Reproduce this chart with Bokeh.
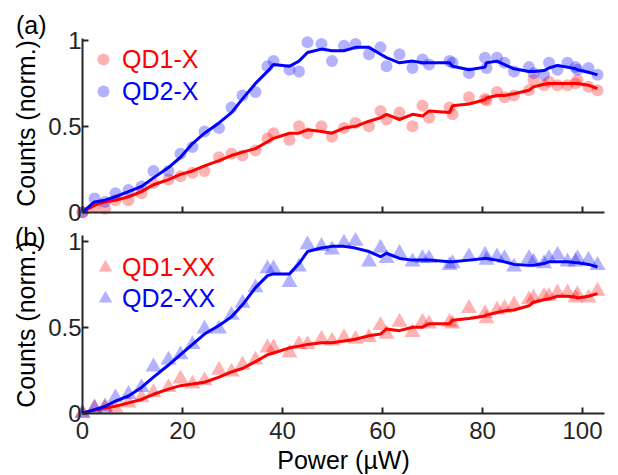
import math
from bokeh.plotting import figure
from bokeh.models import (Legend, LegendItem, Label, FixedTicker, Range1d, LinearAxis)
from bokeh.embed import file_html
from bokeh.resources import INLINE

# ---------------- data ----------------
power = [0, 2.4, 4.5, 6.6, 9.2, 11.8, 14.2, 17.2, 19.6, 22.0, 24.4, 27.3, 29.8, 32.0,
         34.6, 37.0, 38.2, 41.4, 43.3, 45.0, 47.8, 49.9, 52.3, 54.6, 57.3, 59.6, 60.8,
         63.4, 66.0, 68.0, 69.3, 73.4, 74.0, 77.3, 80.5, 80.8, 82.9, 84.4, 86.3, 89.3,
         90.2, 92.3, 93.3, 95.0, 97.0, 98.6, 99.0, 101.2, 103.0]

qd1_x = [0.0, 0.03, 0.02, 0.07, 0.07, 0.11, 0.17, 0.19, 0.21, 0.23, 0.24, 0.32, 0.34, 0.33,
         0.36, 0.43, 0.46, 0.42, 0.50, 0.46, 0.50, 0.44, 0.49, 0.52, 0.50, 0.59, 0.54,
         0.58, 0.50, 0.62, 0.55, 0.61, 0.57, 0.67, 0.66, 0.65, 0.70, 0.67, 0.68, 0.71,
         0.77, 0.74, 0.76, 0.74, 0.74, 0.75, 0.77, 0.73, 0.71]
qd1_x_fit = [0.0, 0.04, 0.06, 0.07, 0.09, 0.12, 0.16, 0.19, 0.22, 0.24, 0.27, 0.30, 0.33, 0.35,
             0.37, 0.41, 0.43, 0.46, 0.46, 0.48, 0.47, 0.46, 0.49, 0.50, 0.53, 0.55, 0.57,
             0.54, 0.57, 0.56, 0.59, 0.58, 0.62, 0.63, 0.655, 0.665, 0.68, 0.68, 0.69, 0.71,
             0.73, 0.745, 0.75, 0.75, 0.75, 0.75, 0.75, 0.74, 0.72]
qd2_x = [0.0, 0.08, 0.06, 0.11, 0.13, 0.15, 0.24, 0.24, 0.34, 0.38, 0.47, 0.49, 0.61, 0.68,
         0.70, 0.85, 0.88, 0.83, 0.82, 0.99, 0.98, 0.88, 0.97, 0.98, 0.92, 0.96, 0.85,
         0.92, 0.84, 0.89, 0.86, 0.88, 0.87, 0.81, 0.90, 0.84, 0.90, 0.87, 0.82, 0.845,
         0.81, 0.80, 0.87, 0.83, 0.87, 0.845, 0.83, 0.84, 0.80]
qd2_x_fit = [0.0, 0.06, 0.07, 0.09, 0.12, 0.15, 0.20, 0.26, 0.32, 0.40, 0.46, 0.52, 0.58, 0.66,
             0.75, 0.82, 0.86, 0.85, 0.88, 0.93, 0.95, 0.94, 0.94, 0.96, 0.96, 0.92, 0.90,
             0.87, 0.88, 0.87, 0.87, 0.87, 0.85, 0.83, 0.845, 0.87, 0.88, 0.86, 0.835, 0.82,
             0.82, 0.825, 0.84, 0.855, 0.845, 0.835, 0.83, 0.815, 0.80]

qd1_xx = [0.0, 0.03, 0.04, 0.03, 0.06, 0.09, 0.12, 0.15, 0.20, 0.17, 0.19, 0.25, 0.24, 0.28,
          0.31, 0.38, 0.38, 0.35, 0.40, 0.40, 0.43, 0.42, 0.44, 0.43, 0.44, 0.51, 0.46,
          0.53, 0.47, 0.53, 0.52, 0.53, 0.52, 0.61, 0.58, 0.55, 0.60, 0.61, 0.63, 0.66,
          0.67, 0.68, 0.68, 0.70, 0.70, 0.67, 0.69, 0.67, 0.71]
qd1_xx_fit = [0.0, 0.02, 0.03, 0.04, 0.06, 0.08, 0.11, 0.14, 0.16, 0.17, 0.18, 0.21, 0.24, 0.26,
              0.30, 0.34, 0.35, 0.38, 0.39, 0.40, 0.41, 0.41, 0.42, 0.43, 0.45, 0.46, 0.49,
              0.48, 0.50, 0.50, 0.52, 0.52, 0.54, 0.55, 0.565, 0.57, 0.585, 0.595, 0.60, 0.625,
              0.645, 0.66, 0.665, 0.68, 0.68, 0.675, 0.67, 0.68, 0.695]
qd2_xx = [0.0, 0.03, 0.03, 0.09, 0.11, 0.15, 0.27, 0.31, 0.34, 0.40, 0.49, 0.49, 0.57, 0.64,
          0.73, 0.84, 0.84, 0.76, 0.85, 0.98, 0.97, 0.95, 0.99, 1.00, 0.88, 0.96, 0.90,
          0.93, 0.88, 0.90, 0.90, 0.86, 0.87, 0.91, 0.92, 0.89, 0.91, 0.90, 0.85, 0.90,
          0.88, 0.87, 0.90, 0.92, 0.88, 0.88, 0.90, 0.89, 0.86]
qd2_xx_fit = [0.0, 0.02, 0.04, 0.07, 0.10, 0.15, 0.21, 0.28, 0.34, 0.40, 0.46, 0.51, 0.56, 0.63,
              0.73, 0.80, 0.81, 0.81, 0.87, 0.94, 0.96, 0.97, 0.97, 0.96, 0.94, 0.91, 0.93,
              0.90, 0.89, 0.89, 0.89, 0.88, 0.88, 0.89, 0.90, 0.90, 0.89, 0.88, 0.865, 0.86,
              0.86, 0.87, 0.88, 0.88, 0.88, 0.875, 0.875, 0.865, 0.85]

x_ticks = [0, 20, 40, 60, 80, 100]
y_ticks = [0, 0.5, 1]
y_tick_labels = {0: "0", 0.5: "0.5", 1: "1"}
x_tick_labels_hidden = {t: "" for t in x_ticks}

RED = "#ff0000"
BLUE = "#0000ff"
AX = "#262626"
FONT = "Liberation Sans"

# One figure whose frame covers the whole canvas; the two panels use two y ranges
# and their axes are drawn at fixed data locations.
p = figure(width=618, height=475, x_range=Range1d(-16.4, 107.2),
           y_range=Range1d(-0.3622, 2.3994),
           x_axis_type=None, y_axis_type=None,
           output_backend="svg", toolbar_location=None,
           min_border_left=0, min_border_right=0, min_border_top=0, min_border_bottom=0)
p.extra_y_ranges = {"top": Range1d(-1.5335, 1.2330)}
p.outline_line_color = None
p.grid.visible = False
p.background_fill_color = "white"
p.border_fill_color = "white"


def style_axis(ax):
    ax.axis_line_color = AX
    ax.axis_line_width = 2
    ax.major_tick_line_color = AX
    ax.major_tick_line_width = 2
    ax.major_tick_in = 6
    ax.major_tick_out = 0
    ax.minor_tick_in = 0
    ax.minor_tick_out = 0
    ax.major_label_text_color = AX
    ax.major_label_text_font = FONT
    ax.major_label_text_font_size = "24px"


def add_axes(range_name, y_end, show_xlabels):
    kw = {} if range_name is None else {"y_range_name": range_name}
    xa = LinearAxis(fixed_location=0, bounds=(0, 104.4),
                    ticker=FixedTicker(ticks=x_ticks, minor_ticks=[]), **kw)
    ya = LinearAxis(fixed_location=0, bounds=(0, y_end),
                    ticker=FixedTicker(ticks=y_ticks, minor_ticks=[]), **kw)
    style_axis(xa)
    style_axis(ya)
    ya.major_label_overrides = y_tick_labels
    ya.major_label_standoff = 1
    if show_xlabels:
        xa.major_label_standoff = 9
    else:
        xa.major_label_overrides = x_tick_labels_hidden
    p.add_layout(xa, "below")
    p.add_layout(ya, "left")


def add_series(range_name, marker, size, y1, y1_fit, y2, y2_fit):
    kw = {} if range_name is None else {"y_range_name": range_name}
    r1 = p.scatter(power, y1, marker=marker, size=size, fill_color=RED, fill_alpha=0.3,
                   line_color=None, **kw)
    r2 = p.scatter(power, y2, marker=marker, size=size, fill_color=BLUE, fill_alpha=0.3,
                   line_color=None, **kw)
    p.line(power, y1_fit, line_color=RED, line_width=3, **kw)
    p.line(power, y2_fit, line_color=BLUE, line_width=3, **kw)
    return r1, r2


def add_legend(label, rend, color, loc, gw, gh, standoff):
    leg = Legend(items=[LegendItem(label=label, renderers=[rend])], location=loc,
                 label_text_color=color, label_text_font=FONT, label_text_font_size="25px",
                 glyph_width=gw, glyph_height=gh, label_standoff=standoff,
                 padding=0, margin=0, spacing=0, border_line_color=None,
                 background_fill_alpha=0)
    p.add_layout(leg)


def add_text(text, x, y, range_name=None, align="left", baseline="top", angle=0.0,
             size="25px"):
    kw = {} if range_name is None else {"y_range_name": range_name}
    p.add_layout(Label(x=x, y=y, text=text, text_align=align, text_baseline=baseline,
                       angle=angle, text_font=FONT, text_font_size=size,
                       text_color="black", **kw))


# ---------------- top panel (a) ----------------
add_axes("top", 1.013, False)
a1, a2 = add_series("top", "circle", 12, qd1_x, qd1_x_fit, qd2_x, qd2_x_fit)
add_legend("QD1-X", a1, RED, (88, 401), 30, 30, 4)
add_legend("QD2-X", a2, BLUE, (88, 369), 30, 30, 4)
add_text("(a)", -13.3, 1.171, "top")
add_text("Counts (norm.)", -11.3, 0.517, "top", align="center", baseline="middle",
         angle=math.pi / 2, size="25px")

# ---------------- bottom panel (b) ----------------
add_axes(None, 1.033, True)
b1, b2 = add_series(None, "triangle", 16, qd1_xx, qd1_xx_fit, qd2_xx, qd2_xx_fit)
add_legend("QD1-XX", b1, RED, (88, 190), 34, 36, 0)
add_legend("QD2-XX", b2, BLUE, (88, 159), 34, 36, 0)
add_text("(b)", -13.5, 1.105)
add_text("Counts (norm.)", -11.3, 0.516, align="center", baseline="middle",
         angle=math.pi / 2, size="25px")
add_text("Power (µW)", 52.2, -0.273, align="center", baseline="alphabetic")

open("out.html", "w").write(file_html(p, INLINE))
